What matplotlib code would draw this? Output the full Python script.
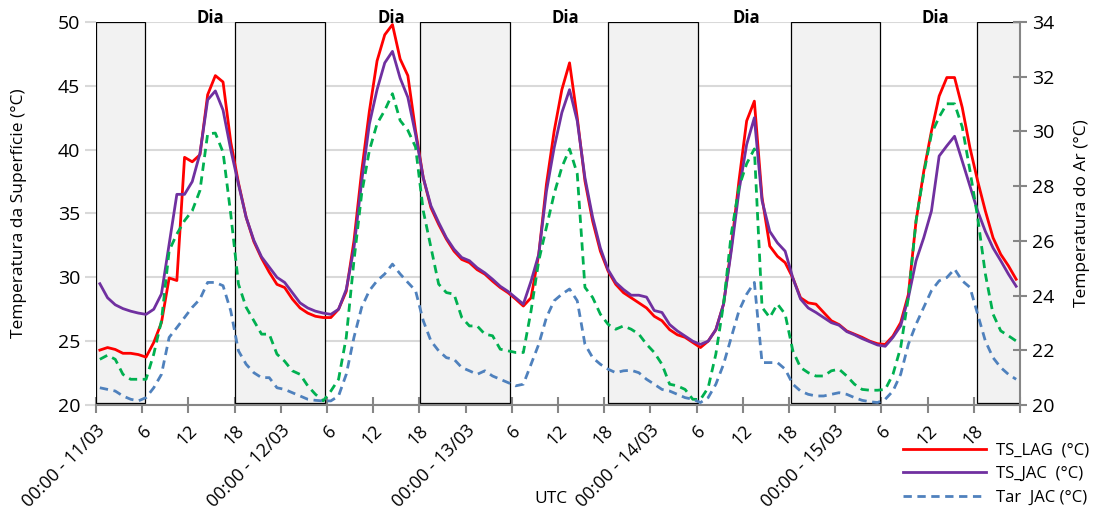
import numpy as np
import matplotlib.pyplot as plt
from matplotlib.patches import Rectangle
from matplotlib.lines import Line2D

# hourly values, 11/03 00h .. 15/03 23h (UTC)
ts_lag = [24.3, 24.5, 24.35, 24.05, 24.05, 23.95, 23.75, 24.9, 26.45, 29.95,
          29.75, 39.4, 39.05, 39.6, 44.3, 45.8, 45.3, 40.6, 37.4, 34.7,
          32.8, 31.5, 30.4, 29.45,
          29.2, 28.3, 27.6, 27.2, 26.95, 26.85, 26.85, 27.5, 28.9, 32.85,
          38.3, 43.0, 46.95, 49.0, 49.8, 47.1, 45.8, 41.5, 37.8, 35.45,
          34.15, 33.0, 32.05, 31.4,
          31.15, 30.6, 30.25, 29.7, 29.2, 28.8, 28.3, 27.75, 28.4, 31.8,
          37.3, 41.45, 44.7, 46.8, 42.5, 37.55, 34.4, 32.05, 30.5, 29.45,
          28.8, 28.4, 28.0, 27.6,
          26.95, 26.6, 25.9, 25.5, 25.3, 24.9, 24.5, 25.0, 25.9, 27.9,
          32.3, 37.55, 42.25, 43.8, 36.25, 32.45, 31.65, 31.15, 29.95, 28.4,
          28.0, 27.9, 27.25, 26.6,
          26.3, 25.8, 25.55, 25.3, 25.0, 24.8, 24.75, 25.4, 26.45, 28.65,
          34.4, 38.3, 41.45, 44.2, 45.65, 45.65, 43.3, 40.15, 37.55, 35.2,
          33.1, 31.8, 30.9, 29.85]

ts_jac = [29.5, 28.4, 27.85, 27.55, 27.35, 27.2, 27.1, 27.5, 28.7, 32.6,
          36.5, 36.5, 37.5, 39.7, 43.9, 44.6, 43.1, 40.0, 37.3, 34.7,
          32.9, 31.6, 30.8, 30.0,
          29.6, 28.8, 28.0, 27.6, 27.35, 27.2, 27.1, 27.5, 29.05, 32.3,
          37.5, 42.0, 44.7, 46.8, 47.7, 45.6, 44.1, 41.2, 37.8, 35.6,
          34.3, 33.1, 32.2, 31.55,
          31.3, 30.75, 30.35, 29.85, 29.3, 28.9, 28.4, 27.9, 29.7, 31.8,
          36.75, 40.15, 42.9, 44.7, 42.25, 37.8, 34.7, 32.3, 30.6, 29.6,
          29.05, 28.6, 28.6, 28.45,
          27.4, 27.25, 26.3, 25.8, 25.4, 25.0, 24.75, 25.0, 25.9, 27.9,
          32.05, 36.75, 40.4, 42.5, 36.0, 33.6, 32.7, 32.05, 29.95, 28.3,
          27.6, 27.25, 26.85, 26.45,
          26.25, 25.75, 25.5, 25.2, 24.95, 24.7, 24.6, 25.3, 26.2, 28.4,
          31.3, 33.1, 35.2, 39.5, 40.3, 41.05, 39.1, 37.15, 35.2, 33.6,
          32.3, 31.3, 30.25, 29.3]

tar_lag = [21.67, 21.82, 21.67, 21.12, 20.94, 20.94, 20.94, 21.86, 23.08, 25.64,
           26.25, 26.74, 27.1, 27.84, 29.91, 29.94, 29.24, 26.98, 24.42, 23.57,
           23.08, 22.59, 22.59, 21.86,
           21.6, 21.25, 21.12, 20.7, 20.39, 20.15, 20.51, 20.94, 22.47, 25.27,
           27.72, 29.3, 30.28, 30.77, 31.38, 30.4, 30.04, 29.43, 27.1, 25.76,
           24.42, 24.11, 24.05, 23.2,
           22.89, 22.89, 22.59, 22.53, 22.04, 21.98, 21.92, 21.92, 23.44, 25.27,
           26.5, 27.72, 28.69, 29.36, 28.45, 24.3, 23.93, 23.32, 22.95, 22.77,
           22.89, 22.77, 22.59, 22.22,
           21.92, 21.49, 20.76, 20.7, 20.57, 20.21, 20.2, 20.63, 21.86, 23.69,
           26.25, 27.96, 28.82, 29.36, 23.57, 23.2, 23.69, 23.32, 21.98, 21.37,
           21.18, 21.06, 21.06, 21.25,
           21.31, 21.06, 20.76, 20.57, 20.54, 20.54, 20.57, 21.12, 22.1, 23.93,
           26.74, 28.45, 29.91, 30.53, 31.01, 31.01, 30.16, 28.57, 26.86, 24.79,
           23.32, 22.71, 22.53, 22.34]

tar_jac = [20.63, 20.57, 20.51, 20.33, 20.21, 20.15, 20.27, 20.63, 21.12, 22.47,
           22.83, 23.2, 23.57, 23.87, 24.48, 24.48, 24.36, 23.44, 21.98, 21.49,
           21.18, 21.0, 21.0, 20.63,
           20.57, 20.45, 20.33, 20.21, 20.17, 20.15, 20.15, 20.33, 21.12, 22.47,
           23.57, 24.18, 24.54, 24.79, 25.15, 24.79, 24.48, 24.18, 23.08, 22.34,
           21.98, 21.73, 21.67, 21.37,
           21.25, 21.12, 21.25, 21.06, 20.94, 20.82, 20.7, 20.76, 21.49, 22.22,
           23.2, 23.81, 24.05, 24.24, 23.81, 22.22, 21.73, 21.49, 21.31, 21.18,
           21.25, 21.27, 21.18, 20.94,
           20.76, 20.57, 20.51, 20.39, 20.27, 20.21, 20.09, 20.27, 20.76, 21.49,
           22.47, 23.44, 24.05, 24.48, 21.55, 21.55, 21.55, 21.31, 20.76, 20.51,
           20.39, 20.33, 20.33, 20.39,
           20.45, 20.39, 20.27, 20.17, 20.12, 20.09, 20.21, 20.51, 21.12, 22.22,
           22.95, 23.57, 24.18, 24.54, 24.66, 24.97, 24.54, 24.3, 23.32, 22.34,
           21.73, 21.37, 21.12, 20.94]

days = ["11/03", "12/03", "13/03", "14/03", "15/03"]
nights = [(0, 6.3), (18, 29.8), (42.1, 53.8), (66.5, 78.2), (90.3, 101.8), (114.4, 120)]
dia_x = [14.8, 38.4, 60.9, 84.4, 109.0]

plt.rcParams['font.family'] = ['Open Sans', 'DejaVu Sans']

hours = np.arange(len(ts_lag)) + 0.5

fig, ax = plt.subplots(figsize=(11.04, 5.13), dpi=100)
fig.subplots_adjust(left=96/1104, right=1020/1104, top=1-22/513, bottom=1-405/513)
ax2 = ax.twinx()

for a, b in nights:
    ax.add_patch(Rectangle((a, 20.15), b - a, 29.85, facecolor='#F2F2F2',
                           edgecolor='black', lw=0.9, zorder=1))

ax.plot(hours, ts_lag, color='#FF0000', lw=2, zorder=4)
ax.plot(hours, ts_jac, color='#7030A0', lw=2, zorder=4)
ax2.plot(hours, tar_lag, color='#00B050', lw=2, ls=(0, (3, 2)))
ax2.plot(hours, tar_jac, color='#4F81BD', lw=2, ls=(0, (3, 2)))

ax.set_xlim(0, 120)
ax.set_ylim(20, 50)
ax2.set_ylim(20, 34)
ax.set_yticks(range(20, 51, 5))
ax2.set_yticks(range(20, 35, 2))
ax.grid(axis='y', color='#D9D9D9', lw=1.5, zorder=0)
ax.set_axisbelow(True)

ticks = list(range(0, 121, 6))
labels = []
for t in ticks:
    if t == 120:
        labels.append("")
    elif t % 24 == 0:
        labels.append("00:00 - " + days[t // 24])
    else:
        labels.append(str(t % 24))
ax.set_xticks(ticks)
ax.set_xticklabels(labels, rotation=45, ha='right', rotation_mode='anchor', fontsize=13)

for s in ['top', 'left']:
    ax.spines[s].set_visible(False)
    ax2.spines[s].set_visible(False)
ax.spines['right'].set_visible(False)
ax.spines['bottom'].set_color('#868686')
ax.spines['bottom'].set_linewidth(1.5)
ax2.spines['bottom'].set_visible(False)
ax2.spines['right'].set_color('#868686')
ax2.spines['right'].set_linewidth(1.5)

ax.tick_params(axis='x', direction='inout', length=12, width=1.5, color='#868686', pad=6)
ax.tick_params(axis='y', direction='out', length=8, width=1.5, color='#D9D9D9', labelsize=14)
ax2.tick_params(axis='y', direction='inout', length=10, width=1.5, color='#868686', labelsize=14)

ax.set_ylabel("Temperatura da Superfície (°C)", fontsize=12.5, labelpad=22)
ax2.set_ylabel("Temperatura do Ar (°C)", fontsize=12.5, labelpad=14)

for x in dia_x:
    ax.text(x, 49.6, "Dia", ha='center', va='bottom', fontsize=12,
            fontweight='bold', clip_on=False)

fig.text(0.484, 0.02, "UTC", fontsize=12.5)

handles = [Line2D([], [], color='#FF0000', lw=2),
           Line2D([], [], color='#7030A0', lw=2),
           Line2D([], [], color='#4F81BD', lw=2, ls=(0, (3, 2)))]
fig.legend(handles, ["TS_LAG  (°C)", "TS_JAC  (°C)", "Tar  JAC (°C)"],
           loc='lower right', bbox_to_anchor=(1.0, -0.015), frameon=False,
           fontsize=12, handlelength=5.0, labelspacing=0.45, handletextpad=0.6)

fig.savefig("out.png", dpi=100)
